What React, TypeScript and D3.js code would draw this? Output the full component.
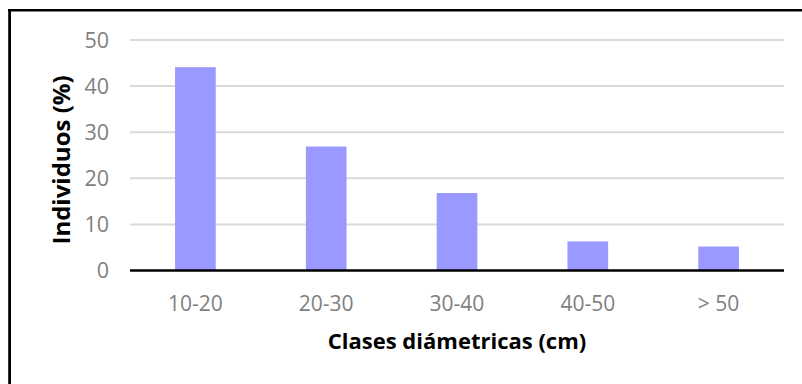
import React from "react";
import * as d3 from "d3";

const categories = ["10-20", "20-30", "30-40", "40-50", "> 50"];
const values = [44.1, 26.9, 16.8, 6.3, 5.2];
const yTicks = [0, 10, 20, 30, 40, 50];
const xTitle = "Clases diámetricas (cm)";
const yTitle = "Individuos (%)";

const W = 802;
const H = 384;
const plot = { left: 130, right: 784, top: 40, bottom: 270.5 };
const FONT = "'Open Sans', sans-serif";

export default function App() {
  const x = d3
    .scaleBand<string>()
    .domain(categories)
    .range([plot.left, plot.right])
    .paddingInner(0.689)
    .paddingOuter(0.3445);
  const y = d3.scaleLinear().domain([0, 50]).range([plot.bottom, plot.top]);

  return (
    <svg
      width={W}
      height={H}
      style={{ position: "absolute", left: 0, top: 0, background: "#fff" }}
    >
      <rect x={0} y={0} width={W} height={H} fill="#fff" />
      {/* frame */}
      <line x1={8} x2={W} y1={10.2} y2={10.2} stroke="#000" strokeWidth={2.4} />
      <line x1={9.6} x2={9.6} y1={9} y2={H} stroke="#000" strokeWidth={2.8} />

      {/* gridlines */}
      {yTicks
        .filter((t) => t !== 0)
        .map((t) => (
          <line
            key={t}
            x1={plot.left}
            x2={plot.right}
            y1={y(t)}
            y2={y(t)}
            stroke="#d9d9d9"
            strokeWidth={2}
          />
        ))}

      {/* bars */}
      {categories.map((c, i) => (
        <rect
          key={c}
          x={x(c)}
          y={y(values[i])}
          width={x.bandwidth()}
          height={y(0) - y(values[i])}
          fill="#9999ff"
        />
      ))}

      {/* zero axis */}
      <line
        x1={plot.left}
        x2={plot.right}
        y1={y(0)}
        y2={y(0)}
        stroke="#000"
        strokeWidth={2.5}
      />

      {/* y tick labels */}
      {yTicks.map((t) => (
        <text
          key={t}
          x={109}
          y={y(t) + 7.5}
          textAnchor="end"
          fontFamily={FONT}
          fontSize={21.5}
          fill="#808080"
        >
          {t}
        </text>
      ))}

      {/* x tick labels */}
      {categories.map((c) => (
        <text
          key={c}
          x={(x(c) as number) + x.bandwidth() / 2}
          y={310.5}
          textAnchor="middle"
          fontFamily={FONT}
          fontSize={21}
          fill="#808080"
        >
          {c}
        </text>
      ))}

      {/* axis titles */}
      <text
        x={457}
        y={349}
        textAnchor="middle"
        fontFamily={FONT}
        fontSize={22}
        fontWeight="bold"
        fill="#000"
      >
        {xTitle}
      </text>
      <text
        transform={`translate(70,160) rotate(-90)`}
        textAnchor="middle"
        fontFamily={FONT}
        fontSize={24}
        fontWeight="bold"
        fill="#000"
      >
        {yTitle}
      </text>
    </svg>
  );
}
